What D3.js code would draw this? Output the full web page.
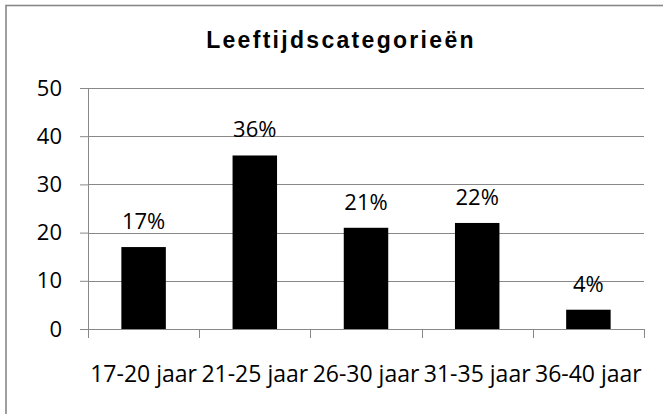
<!DOCTYPE html>
<html>
<head>
<meta charset="utf-8">
<script src="https://cdn.jsdelivr.net/npm/d3@7"></script>
<style>
  body { margin: 0; background: #fff; }
</style>
</head>
<body>
<div id="chart"></div>
<script>
// data
var categories = ["17-20 jaar", "21-25 jaar", "26-30 jaar", "31-35 jaar", "36-40 jaar"];
var values = [17, 36, 21, 22, 4];
var labels = ["17%", "36%", "21%", "22%", "4%"];
var yTicks = [0, 10, 20, 30, 40, 50];

var svgWidth = 663;
var svgHeight = 414;

var margin = { top: 88, right: 19, bottom: 85, left: 88 };
var width = svgWidth - margin.left - margin.right;
var height = svgHeight - margin.top - margin.bottom;
var labelFont = "'Open Sans', sans-serif";

var svg = d3.select("#chart")
  .append("svg")
  .attr("width", svgWidth)
  .attr("height", svgHeight);

// outer frame (right and bottom edges fall outside the picture)
svg.append("rect")
  .attr("x", 6)
  .attr("y", 5.5)
  .attr("width", 700)
  .attr("height", 500)
  .attr("fill", "none")
  .attr("stroke", "#888")
  .attr("stroke-width", 1.6);

// title
svg.append("text")
  .attr("x", 341)
  .attr("y", 48)
  .attr("text-anchor", "middle")
  .style("font-family", "'Liberation Sans', Arial, sans-serif")
  .style("font-weight", "bold")
  .style("font-size", "23px")
  .style("letter-spacing", "2.3px")
  .attr("fill", "#000")
  .text("Leeftijdscategorieën");

var chartGroup = svg.append("g")
  .attr("transform", `translate(${margin.left}, ${margin.top})`);

// scales
var xScale = d3.scaleBand()
  .domain(categories)
  .range([0, width])
  .paddingInner(0.6)
  .paddingOuter(0.3);

var yScale = d3.scaleLinear()
  .domain([0, 50])
  .range([height, 0]);

// gridlines
chartGroup.selectAll("line.grid")
  .data(yTicks.slice(1))
  .enter()
  .append("line")
  .attr("class", "grid")
  .attr("x1", 0)
  .attr("x2", width)
  .attr("y1", d => Math.round(yScale(d)) + 0.5)
  .attr("y2", d => Math.round(yScale(d)) + 0.5)
  .attr("stroke", "#888");

// y axis
var yAxis = d3.axisLeft(yScale)
  .tickValues(yTicks)
  .tickSize(8)
  .tickPadding(18);

var yG = chartGroup.append("g").call(yAxis);
yG.selectAll("path, line").attr("stroke", "#888");
yG.selectAll("text")
  .style("font-size", "22px")
  .style("font-family", labelFont)
  .attr("fill", "#000");

// x axis
var bw = xScale.step();
var xAxisG = chartGroup.append("g")
  .attr("transform", `translate(0, ${height})`);

xAxisG.append("line")
  .attr("x1", 0)
  .attr("x2", width)
  .attr("y1", 0.5)
  .attr("y2", 0.5)
  .attr("stroke", "#888");

xAxisG.selectAll("line.tick")
  .data(d3.range(categories.length + 1))
  .enter()
  .append("line")
  .attr("class", "tick")
  .attr("x1", i => Math.round(i * bw) + 0.5)
  .attr("x2", i => Math.round(i * bw) + 0.5)
  .attr("y1", 0)
  .attr("y2", 9)
  .attr("stroke", "#888");

xAxisG.selectAll("text")
  .data(categories)
  .enter()
  .append("text")
  .attr("x", d => xScale(d) + xScale.bandwidth() / 2)
  .attr("y", 53)
  .attr("text-anchor", "middle")
  .style("font-size", "23px")
  .style("font-family", labelFont)
  .attr("fill", "#000")
  .text(d => d);

// bars
chartGroup.selectAll("rect.bar")
  .data(values)
  .enter()
  .append("rect")
  .attr("class", "bar")
  .attr("x", (d, i) => xScale(categories[i]))
  .attr("y", d => yScale(d))
  .attr("width", xScale.bandwidth())
  .attr("height", d => height - yScale(d))
  .attr("fill", "#000");

// value labels
chartGroup.selectAll("text.value")
  .data(values)
  .enter()
  .append("text")
  .attr("class", "value")
  .attr("x", (d, i) => xScale(categories[i]) + xScale.bandwidth() / 2)
  .attr("y", d => yScale(d) - 18)
  .attr("text-anchor", "middle")
  .style("font-size", "22px")
  .style("font-family", labelFont)
  .attr("fill", "#000")
  .text((d, i) => labels[i]);
</script>
</body>
</html>
